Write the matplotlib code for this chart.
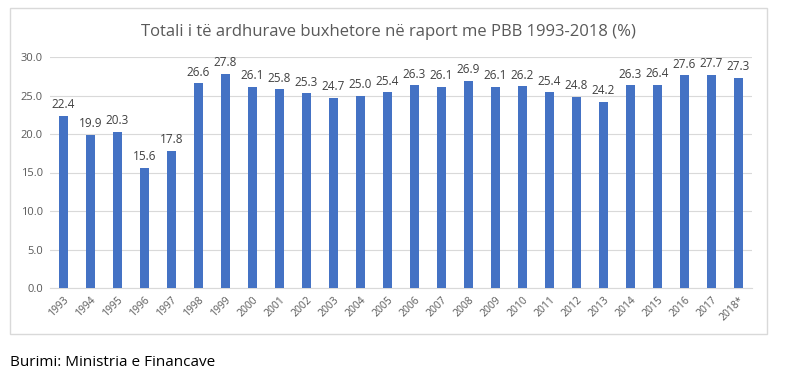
import numpy as np
import matplotlib
matplotlib.use('Agg')
import matplotlib.pyplot as plt
from matplotlib.patches import Rectangle

plt.rcParams['font.family'] = ['Open Sans', 'DejaVu Sans']

years = ['1993', '1994', '1995', '1996', '1997', '1998', '1999', '2000', '2001',
         '2002', '2003', '2004', '2005', '2006', '2007', '2008', '2009', '2010',
         '2011', '2012', '2013', '2014', '2015', '2016', '2017', '2018*']
revenue = [22.4, 19.9, 20.3, 15.6, 17.8, 26.6, 27.8, 26.1, 25.8, 25.3, 24.7, 25.0, 25.4,
           26.3, 26.1, 26.9, 26.1, 26.2, 25.4, 24.8, 24.2, 26.3, 26.4, 27.6, 27.7, 27.3]
yticks = [0, 5, 10, 15, 20, 25, 30]

fig = plt.figure(figsize=(8, 3.86), dpi=100)
W, H = 800, 386

# outer chart frame
fig.patches.append(Rectangle((10 / W, 1 - 334 / H), 757 / W, 326 / H,
                             transform=fig.transFigure, fill=False,
                             edgecolor='#d9d9d9', linewidth=1.0))

ax = fig.add_axes([50 / W, 1 - 288 / H, 702 / W, 231 / H])
x = np.arange(len(years))
bars = ax.bar(x, revenue, width=0.34, color='#4472C4', zorder=3)
for xi, v in zip(x, revenue):
    ax.text(xi, v + 0.6, '%.1f' % v, ha='center', va='bottom',
            fontsize=8.5, color='#404040', clip_on=False)

ax.set_xlim(-0.5, len(years) - 0.5)
ax.set_ylim(0, 30)
ax.set_yticks(yticks)
ax.set_yticklabels(['%.1f' % t for t in yticks], fontsize=8, color='#595959')
ax.set_xticks(x)
ax.set_xticklabels(years, rotation=45, ha='right', rotation_mode='anchor',
                   fontsize=7.5, color='#595959')
ax.tick_params(length=0, pad=5)
ax.yaxis.grid(True, color='#d9d9d9', linewidth=0.8, zorder=0)
for s in ['top', 'right', 'left']:
    ax.spines[s].set_visible(False)
ax.spines['bottom'].set_color('#d9d9d9')

fig.text(388 / W, 1 - 32 / H, 'Totali i të ardhurave buxhetore në raport me PBB 1993-2018 (%)',
         ha='center', va='center', fontsize=12, color='#595959')
fig.text(10 / W, 1 - 362 / H, 'Burimi: Ministria e Financave',
         ha='left', va='center', fontsize=11, color='#000000')

fig.savefig('out.png', dpi=100)
